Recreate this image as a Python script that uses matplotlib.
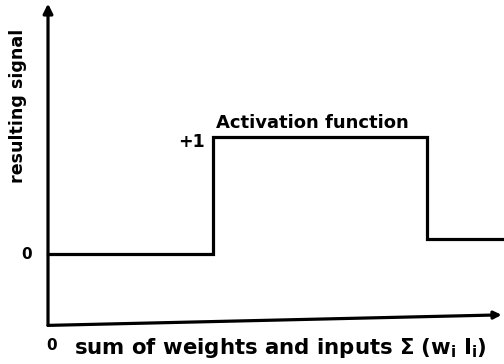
import matplotlib
matplotlib.use("Agg")
from matplotlib import pyplot as plt

# step function (x in threshold units, y in signal units)
step_x = [0.0, 1.0, 1.0, 2.30, 2.30, 2.76]
step_y = [0.0, 0.0, 1.0, 1.0, 0.13, 0.13]

level_labels = ["0", "+1"]
level_values = [0, 1]

x_label = r"sum of weights and inputs $\mathbf{\Sigma\ (w_i\ I_i)}$"
y_label = "resulting signal"
curve_label = "Activation function"

axis_bottom = -0.61
axis_top = 2.14
axis_right = 2.75

plt.rcParams['font.family'] = ['DejaVu Sans']
plt.rcParams['mathtext.fontset'] = 'dejavusans'

fig = plt.figure(figsize=(5.04, 3.64), dpi=100)
ax = fig.add_axes([0, 0, 1, 1])
ax.set_xlim(-0.291, 2.764)
ax.set_ylim(-0.94, 2.171)
ax.axis('off')

lw = 2.3

# hand-drawn style axes
ax.annotate('', xy=(0, axis_top), xytext=(0, axis_bottom),
            arrowprops=dict(arrowstyle='-|>', lw=lw, color='black',
                            mutation_scale=14, shrinkA=0, shrinkB=0),
            annotation_clip=False)
ax.annotate('', xy=(axis_right, axis_bottom + 0.09), xytext=(0, axis_bottom),
            arrowprops=dict(arrowstyle='-|>', lw=lw, color='black',
                            mutation_scale=11, shrinkA=0, shrinkB=0),
            annotation_clip=False)

ax.plot(step_x, step_y, color='black', lw=lw, solid_joinstyle='miter')

# level labels
ax.text(-0.10, level_values[0], level_labels[0], ha='right', va='center',
        fontsize=11, fontweight='bold')
ax.text(0.95, level_values[1] - 0.04, level_labels[1], ha='right', va='center',
        fontsize=12.5, fontweight='bold')

ax.text(1.02, 1.04, curve_label, ha='left', va='bottom',
        fontsize=13, fontweight='bold')

ax.text(-0.18, 1.27, y_label, rotation=90, ha='center', va='center',
        fontsize=12.6, fontweight='bold')

ax.text(0.02, -0.78, "0", ha='center', va='center',
        fontsize=11, fontweight='bold')
ax.text(0.16, -0.80, x_label, ha='left', va='center',
        fontsize=15.3, fontweight='bold')

fig.savefig("out.png", dpi=100)
